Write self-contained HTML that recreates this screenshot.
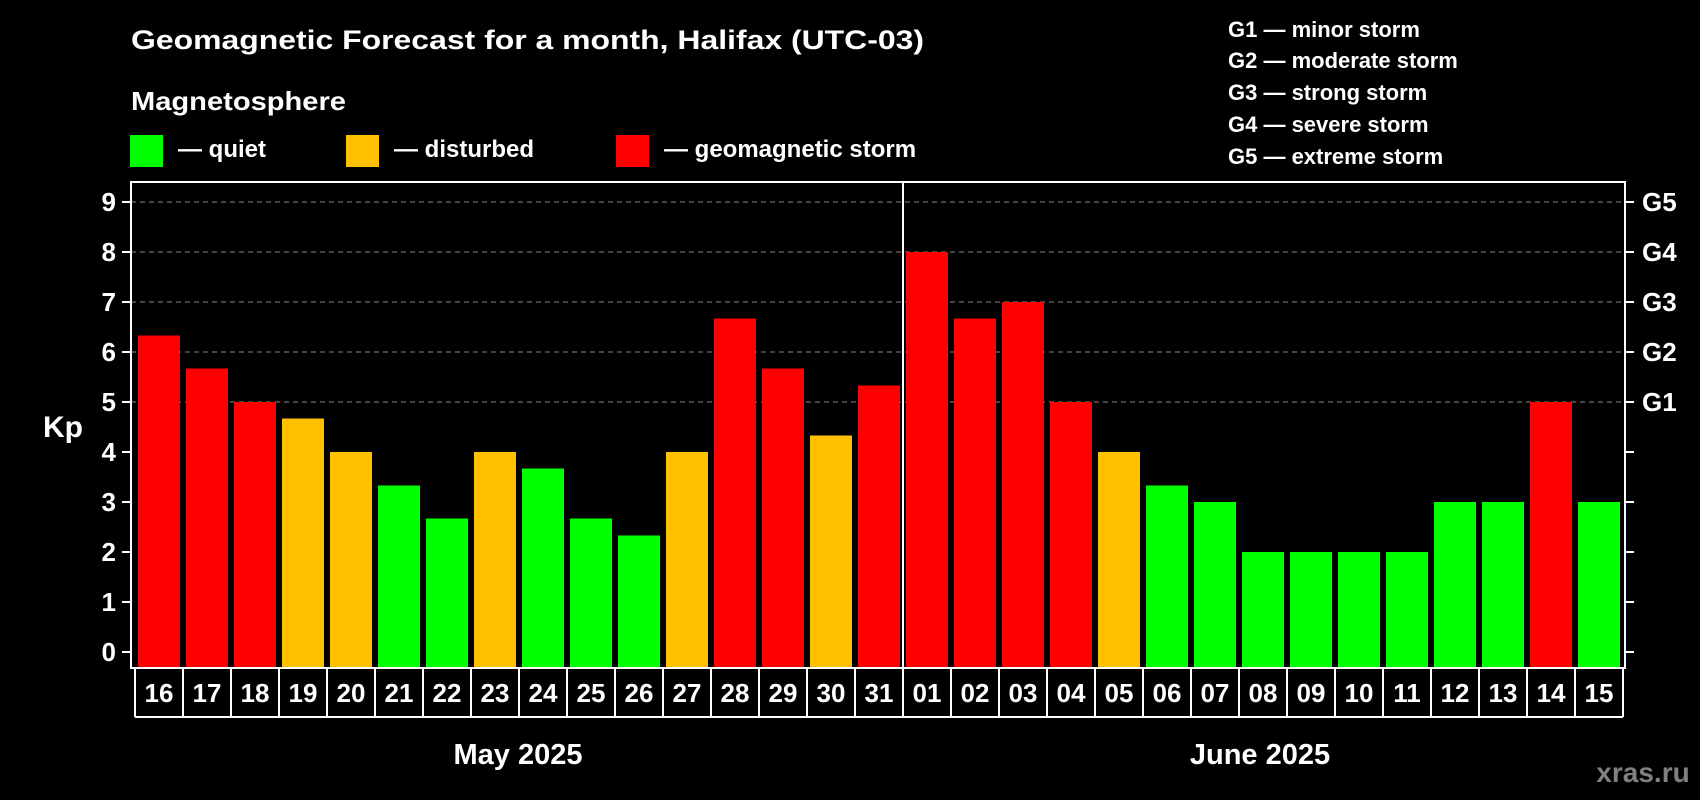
<!DOCTYPE html>
<html><head><meta charset="utf-8"><style>
html,body{margin:0;padding:0;background:#000;}
svg{display:block;font-family:"Liberation Sans",Arial,sans-serif;font-weight:bold;}
</style></head><body>
<svg id="chart" width="1700" height="800" viewBox="0 0 1700 800" xmlns="http://www.w3.org/2000/svg">
<rect x="0" y="0" width="1700" height="800" fill="#000"/>
<text x="131" y="49" fill="#fff" font-size="27" textLength="793" lengthAdjust="spacingAndGlyphs">Geomagnetic Forecast for a month, Halifax (UTC-03)</text>
<text x="131" y="110" fill="#fff" font-size="26" textLength="215" lengthAdjust="spacingAndGlyphs">Magnetosphere</text>
<g>
<rect x="130" y="135" width="33" height="32" fill="#00ff00"/>
<text x="178" y="157" fill="#fff" font-size="24">— quiet</text>
<rect x="346" y="135" width="33" height="32" fill="#ffc000"/>
<text x="394" y="157" fill="#fff" font-size="24">— disturbed</text>
<rect x="616" y="135" width="33" height="32" fill="#ff0000"/>
<text x="664" y="157" fill="#fff" font-size="24">— geomagnetic storm</text>
</g>
<g fill="#fff" font-size="22">
<text x="1228" y="37">G1 — minor storm</text>
<text x="1228" y="68">G2 — moderate storm</text>
<text x="1228" y="100">G3 — strong storm</text>
<text x="1228" y="132">G4 — severe storm</text>
<text x="1228" y="164">G5 — extreme storm</text>
</g>
<text x="43" y="437" fill="#fff" font-size="30">Kp</text>
<g id="grid"></g><g id="bars"></g><g id="axes"></g><g id="labels"></g>
<text x="518" y="764" fill="#fff" font-size="29" text-anchor="middle">May 2025</text>
<text x="1260" y="764" fill="#fff" font-size="29" text-anchor="middle">June 2025</text>
<text x="1643" y="782" fill="#808080" font-size="28" text-anchor="middle">xras.ru</text>
</svg>
<script>
const days = ["16","17","18","19","20","21","22","23","24","25","26","27","28","29","30","31","01","02","03","04","05","06","07","08","09","10","11","12","13","14","15"];
const kpValues = [6.33,5.67,5,4.67,4,3.33,2.67,4,3.67,2.67,2.33,4,6.67,5.67,4.33,5.33,8,6.67,7,5,4,3.33,3,2,2,2,2,3,3,5,3];
const yTicks = [0,1,2,3,4,5,6,7,8,9];
const gLabels = ["G1","G2","G3","G4","G5"];
const gLevels = [5,6,7,8,9];

const NS="http://www.w3.org/2000/svg";
const L=131,R=1625,T=182,B=668,Y0=652,UNIT=50,X0=138,PITCH=48,BW=42;
function yS(v){return Y0-v*UNIT;}
function xS(i){return X0+i*PITCH;}
function mk(tag,attrs,parent){const e=document.createElementNS(NS,tag);for(const k in attrs)e.setAttribute(k,attrs[k]);parent.appendChild(e);return e;}
function colorFor(v){return v>=5?"#ff0000":(v>=4?"#ffc000":"#00ff00");}
const grid=document.getElementById("grid"),bars=document.getElementById("bars"),axes=document.getElementById("axes"),labels=document.getElementById("labels");

gLevels.forEach((g)=>{
  const ln=mk("line",{x1:L,x2:R,y1:yS(g),y2:yS(g),stroke:"#888","stroke-width":1,"stroke-dasharray":"5,4"},grid);
  
  
});
kpValues.forEach((v,i)=>{
  const r=mk("rect",{x:xS(i),y:yS(v),width:BW,height:B-yS(v),fill:colorFor(v)},bars);
  
  
});
const frame=mk("rect",{x:L,y:T,width:R-L,height:B-T,fill:"none",stroke:"#fff","stroke-width":2},axes);


const div=mk("line",{x1:903,x2:903,y1:T,y2:B,stroke:"#fff","stroke-width":2},axes);


yTicks.forEach((t)=>{
  const tk=mk("line",{x1:122,x2:L,y1:yS(t),y2:yS(t),stroke:"#fff","stroke-width":2},axes);
  
  
  const tk2=mk("line",{x1:R,x2:1634,y1:yS(t),y2:yS(t),stroke:"#fff","stroke-width":2},axes);
  
  
  const tx=mk("text",{x:116,y:yS(t)+9,fill:"#fff","font-size":26,"text-anchor":"end"},labels);
  tx.textContent=t;
  
  
});
gLabels.forEach((g,i)=>{
  const tx=mk("text",{x:1642,y:yS(gLevels[i])+9,fill:"#fff","font-size":26},labels);
  tx.textContent=g;
  
  
});
const cellL=135,cellT=669,cellB=717;
const rowLine=mk("line",{x1:cellL,x2:cellL+days.length*PITCH,y1:cellB,y2:cellB,stroke:"#fff","stroke-width":2},axes);


for(let k=0;k<=days.length;k++){
  const s=mk("line",{x1:cellL+k*PITCH,x2:cellL+k*PITCH,y1:cellT,y2:cellB,stroke:"#fff","stroke-width":2},axes);
  
  
}
days.forEach((d,i)=>{
  const tx=mk("text",{x:xS(i)+BW/2,y:702,fill:"#fff","font-size":26,"text-anchor":"middle"},labels);
  tx.textContent=d;
  
  
});
</script>
</body></html>
